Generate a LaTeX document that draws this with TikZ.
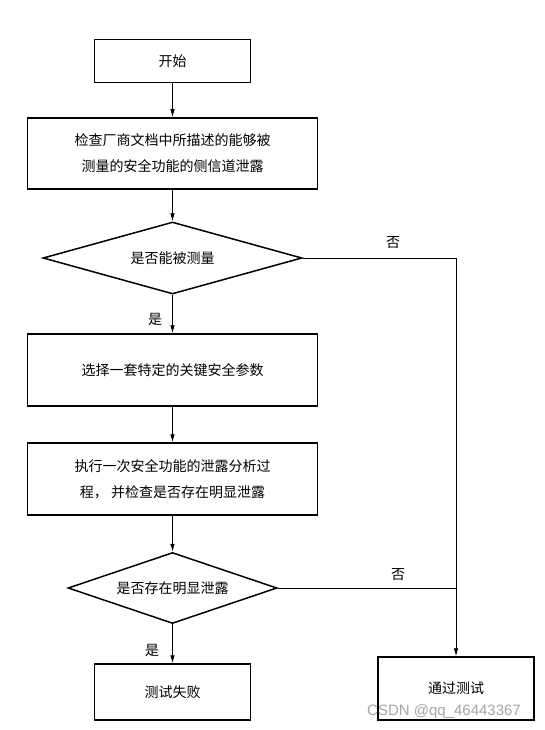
\documentclass[tikz,border=0pt]{standalone}
\usepackage{fontspec}
\setmainfont{Noto Sans CJK SC}
\newfontfamily\wmfont{Liberation Sans}
\usetikzlibrary{shapes.geometric,arrows.meta}
\begin{document}
\begin{tikzpicture}[x=1pt,y=-1pt,
  box/.style={draw,line width=1.5pt,rectangle,inner sep=0pt,align=center,font={\fontsize{14}{26}\selectfont}},
  dia/.style={draw,line width=1.5pt,diamond,inner sep=0pt,font={\fontsize{14}{26}\selectfont}},
  conn/.style={line width=0.8pt},
  arr/.style={conn,-{Latex[length=8pt,width=4.5pt]}},
  lbl/.style={font={\fontsize{14}{16}\selectfont},inner sep=0pt}]
\fill[white] (0,0) rectangle (544,730);
\useasboundingbox (0,0) rectangle (544,730);
\node[box,minimum width=156pt,minimum height=43pt] (start) at (172.5,61) {开始};
\node[box,minimum width=290pt,minimum height=71pt] (check) at (172.5,153.5) {检查厂商文档中所描述的能够被\\测量的安全功能的侧信道泄露};
\node[dia,shape aspect=3.6,minimum width=259pt,minimum height=72pt] (d1) at (172.5,258) {是否能被测量};
\node[box,minimum width=290pt,minimum height=72pt] (sel) at (172.5,370) {选择一套特定的关键安全参数};
\node[box,minimum width=290pt,minimum height=72pt] (exec) at (172.5,479) {执行一次安全功能的泄露分析过\\程， 并检查是否存在明显泄露};
\node[dia,shape aspect=2.94,minimum width=209pt,minimum height=71pt] (d2) at (172.5,588) {是否存在明显泄露};
\node[box,minimum width=156pt,minimum height=56pt] (fail) at (172.5,692) {测试失败};
\node[box,minimum width=156pt,minimum height=63pt] (pass) at (456,688.5) {通过测试};
\coordinate (c1) at (pass.north |- d1.east);
\coordinate (c2) at (pass.north |- d2.east);
\draw[arr] (start) -- (check);
\draw[arr] (check) -- (d1);
\draw[arr] (d1) -- (sel);
\draw[arr] (sel) -- (exec);
\draw[arr] (exec) -- (d2);
\draw[arr] (d2) -- (fail);
\draw[arr] (d1.east) -- (c1) -- (pass.north);
\draw[conn] (d2.east) -- (c2);
\node[lbl] (no1) at (393,243) {否};
\node[lbl] (yes1) at (155,319) {是};
\node[lbl] (no2) at (398,575) {否};
\node[lbl] (yes2) at (152,650) {是};
\node[font={\wmfont\fontsize{15}{16}\selectfont},text=black!35,inner sep=0pt] (wm) at (444,712) {CSDN @qq\_46443367};
\end{tikzpicture}
\end{document}
